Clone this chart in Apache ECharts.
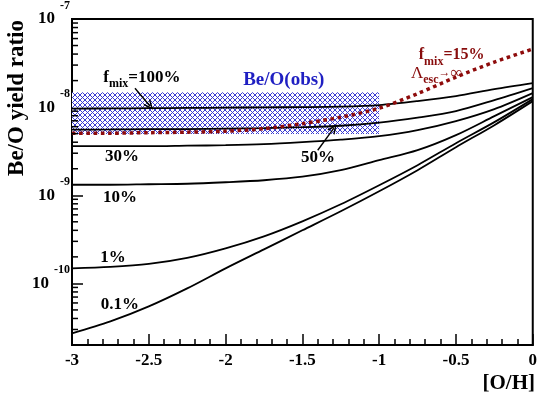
<!DOCTYPE html>
<html><head><meta charset="utf-8">
<script src="https://cdn.jsdelivr.net/npm/echarts@6/dist/echarts.min.js"></script>
<style>html,body{margin:0;padding:0;background:#fff}#c{width:540px;height:396px}</style>
</head><body><div id="c"></div>
<script>
// [O/H] sample points
const oh = [-3, -2.75, -2.5, -2.25, -2, -1.75, -1.5, -1.25, -1, -0.75, -0.5, -0.25, 0];
// Be/O yield ratio curves
const fmix100 = [9.62e-9, 9.67e-9, 9.74e-9, 9.79e-9, 9.87e-9, 9.94e-9, 1.0e-8, 1.013e-8, 1.054e-8, 1.17e-8, 1.334e-8, 1.60e-8, 1.874e-8];
const fmix50  = [5.55e-9, 5.58e-9, 5.62e-9, 5.64e-9, 5.70e-9, 5.78e-9, 5.92e-9, 6.15e-9, 6.67e-9, 7.60e-9, 9.01e-9, 1.201e-8, 1.644e-8];
const fmix30  = [3.603e-9, 3.603e-9, 3.603e-9, 3.651e-9, 3.699e-9, 3.797e-9, 4.002e-9, 4.273e-9, 4.683e-9, 5.478e-9, 6.934e-9, 9.49e-9, 1.442e-8];
const fmix10  = [1.316e-9, 1.316e-9, 1.334e-9, 1.351e-9, 1.405e-9, 1.481e-9, 1.623e-9, 1.924e-9, 2.498e-9, 3.245e-9, 4.806e-9, 7.90e-9, 1.299e-8];
const fmix1   = [1.481e-10, 1.54e-10, 1.666e-10, 1.949e-10, 2.498e-10, 3.42e-10, 5.064e-10, 7.90e-10, 1.299e-9, 2.193e-9, 3.898e-9, 6.755e-9, 1.233e-8];
const fmix01  = [2.703e-11, 3.70e-11, 5.48e-11, 8.77e-11, 1.481e-10, 2.434e-10, 4.002e-10, 6.58e-10, 1.11e-9, 1.924e-9, 3.511e-9, 6.245e-9, 1.17e-8];
const fmix15esc = [5.064e-9, 5.064e-9, 5.131e-9, 5.198e-9, 5.337e-9, 5.698e-9, 6.494e-9, 7.698e-9, 9.741e-9, 1.423e-8, 2.193e-8, 3.246e-8, 4.56e-8];
// observed Be/O band
const bandOH = [-3, -1];
const bandBeO = [4.95e-9, 1.48e-8];
// axis ranges / ticks
const xRange = [-3, 0];
const yRange = [2e-11, 1e-7];
const yDecades = [-11, -10, -9, -8];
const yMinorMult = [2, 3, 4, 5, 6, 7, 8, 9];
// curve labels
const curveLabels = ['f_mix=100%', 'Be/O(obs)', '30%', '10%', '1%', '0.1%', '50%', 'f_mix=15%', 'Λ_esc→∞'];

const serif = 'Liberation Serif';
const darkRed = '#8e0b0b';
const textRed = '#880c0c';
const blue = '#1f1fc2';

function hatch() {
  const n = 5;
  const c = document.createElement('canvas');
  c.width = n; c.height = n;
  const g = c.getContext('2d');
  g.fillStyle = '#ffffff'; g.fillRect(0, 0, n, n);
  g.fillStyle = '#3a3ad2';
  for (let i = 0; i < n; i++) { g.fillRect(i, i, 1, 1); g.fillRect(n - 1 - i, i, 1, 1); }
  return c;
}

const yMinor = [];
yDecades.forEach(d => yMinorMult.forEach(m => {
  const v = m * Math.pow(10, d);
  if (v > yRange[0] * 1.01 && v < yRange[1]) yMinor.push([xRange[0], v]);
}));

function pts(arr) { return oh.map((x, i) => [x, arr[i]]); }

const curves = [
  ['f_mix=100%', fmix100], ['f_mix=50%', fmix50], ['f_mix=30%', fmix30],
  ['f_mix=10%', fmix10], ['f_mix=1%', fmix1], ['f_mix=0.1%', fmix01]
];

const rich = {
  t: {fontFamily: serif, fontWeight: 'bold', fontSize: 17, fill: '#000', lineHeight: 24},
  f: {fontFamily: serif, fontWeight: 'bold', fontSize: 17, fill: '#000', lineHeight: 26},
  sub: {fontFamily: serif, fontWeight: 'bold', fontSize: 12, fill: '#000', verticalAlign: 'bottom'},
  rf: {fontFamily: serif, fontWeight: 'bold', fontSize: 16, fill: textRed, lineHeight: 26},
  rsub: {fontFamily: serif, fontWeight: 'bold', fontSize: 12, fill: textRed, verticalAlign: 'bottom'},
  rl: {fontFamily: serif, fontWeight: 'normal', fontSize: 17, fill: textRed, lineHeight: 26},
  rarr: {fontFamily: serif, fontWeight: 'normal', fontSize: 12, fill: textRed},
  rinf: {fontFamily: serif, fontWeight: 'normal', fontSize: 17, fill: textRed},
  obs: {fontFamily: serif, fontWeight: 'bold', fontSize: 19, fill: blue}
};

const series = curves.map((c, i) => ({
  name: c[0], type: 'line', data: pts(c[1]), symbol: 'none', smooth: 0.3, z: 3,
  lineStyle: {color: '#000', width: 1.8},
  markArea: i === 0 ? {
    silent: true, z: 1,
    itemStyle: {color: {image: hatch(), repeat: 'repeat'}},
    data: [[{coord: [bandOH[0], bandBeO[0]]}, {coord: [bandOH[1], bandBeO[1]]}]]
  } : undefined
}));

series.push({
  name: 'f_mix=15% esc', type: 'line', data: pts(fmix15esc), symbol: 'none', smooth: 0.3, z: 4,
  lineStyle: {color: darkRed, width: 3.5, type: [3.6, 3.6], cap: 'butt'},
  markLine: {
    silent: true, symbol: ['none', 'path://M0,10 L5,0 L10,10 L8.3,10 L5,3.4 L1.7,10 Z'], symbolSize: [9, 10],
    label: {show: false}, lineStyle: {color: '#000', width: 1.4, type: 'solid'},
    data: [
      [{coord: [-2.590, 1.64e-8]}, {coord: [-2.4925, 1.03e-8]}],
      [{coord: [-1.40, 3.24e-9]}, {coord: [-1.295, 5.77e-9]}]
    ]
  }
});

series.push({
  type: 'custom', coordinateSystem: 'cartesian2d', silent: true, z: 5, data: yMinor, clip: false,
  encode: {x: 0, y: 1},
  renderItem: (params, api) => {
    const p = api.coord([api.value(0), api.value(1)]);
    return {type: 'line', shape: {x1: p[0], y1: p[1], x2: p[0] + 6, y2: p[1]}, style: {stroke: '#000', lineWidth: 1.5}};
  }
});

const chart = echarts.init(document.getElementById('c'), null, {renderer: 'canvas'});
chart.setOption({
  animation: false,
  backgroundColor: '#fff',
  grid: {left: 72, right: 7, top: 19, bottom: 51, show: true, borderColor: '#000', borderWidth: 2, backgroundColor: 'transparent'},
  xAxis: {
    type: 'value', min: xRange[0], max: xRange[1], interval: 0.5,
    axisLine: {show: true, onZero: false, lineStyle: {color: '#000', width: 2}},
    axisTick: {show: true, inside: true, length: 11, lineStyle: {color: '#000', width: 1.5}},
    minorTick: {show: true, splitNumber: 5, length: 6, lineStyle: {color: '#000', width: 1.5}},
    splitLine: {show: false}, minorSplitLine: {show: false},
    axisLabel: {margin: 7, color: '#000', fontFamily: serif, fontWeight: 'bold', fontSize: 17}
  },
  yAxis: {
    type: 'log', logBase: 10, min: yRange[0], max: yRange[1],
    axisLine: {show: true, onZero: false, lineStyle: {color: '#000', width: 2}},
    axisTick: {show: true, inside: true, length: 11, lineStyle: {color: '#000', width: 1.5}},
    splitLine: {show: false},
    axisLabel: {
      margin: 2, showMinLabel: false,
      formatter: v => {
        const e = Math.log10(v), r = Math.round(e);
        if (Math.abs(e - r) > 1e-6) return '';
        return '{b|10}{s|' + r + '}';
      },
      rich: {
        b: {fontFamily: serif, fontWeight: 'bold', fontSize: 17, color: '#000', lineHeight: 38},
        s: {fontFamily: serif, fontWeight: 'bold', fontSize: 12, color: '#000', verticalAlign: 'top', padding: [0, 0, 0, 5]}
      }
    }
  },
  series: series
});

// annotation text anchored in data coordinates
const annots = [
  [-2.545, 2.19e-8, '{f|f}{sub|mix}{f|=100%}'],
  [-1.621, 2.03e-8, '{obs|' + curveLabels[1] + '}'],
  [-2.675, 2.77e-9, '{t|' + curveLabels[2] + '}'],
  [-2.688, 9.5e-10, '{t|' + curveLabels[3] + '}'],
  [-2.733, 1.97e-10, '{t|' + curveLabels[4] + '}'],
  [-2.688, 5.77e-11, '{t|' + curveLabels[5] + '}'],
  [-1.399, 2.70e-9, '{t|' + curveLabels[6] + '}'],
  [-0.528, 3.90e-8, '{rf|f}{rsub|mix}{rf|=15%}'],
  [-0.625, 2.43e-8, '{rl|\u039B}{rsub|esc}{rarr|\u2192}{rinf|\u221E}']
];
const g = annots.map(a => {
  const p = chart.convertToPixel({xAxisIndex: 0, yAxisIndex: 0}, [a[0], a[1]]);
  return {type: 'text', x: p[0], y: p[1], silent: true, z: 10,
    style: {text: a[2], rich: rich, align: 'center', verticalAlign: 'middle'}};
});
g.push({type: 'text', x: 17, y: 98, rotation: Math.PI / 2, silent: true,
  style: {text: 'Be/O yield ratio', fontFamily: serif, fontWeight: 'bold', fontSize: 23, fill: '#000', align: 'center', verticalAlign: 'middle'}});
g.push({type: 'text', x: 535, y: 384, silent: true,
  style: {text: '[O/H]', fontFamily: serif, fontWeight: 'bold', fontSize: 21, fill: '#000', align: 'right', verticalAlign: 'middle'}});
chart.setOption({graphic: g});
</script>
</body></html>
